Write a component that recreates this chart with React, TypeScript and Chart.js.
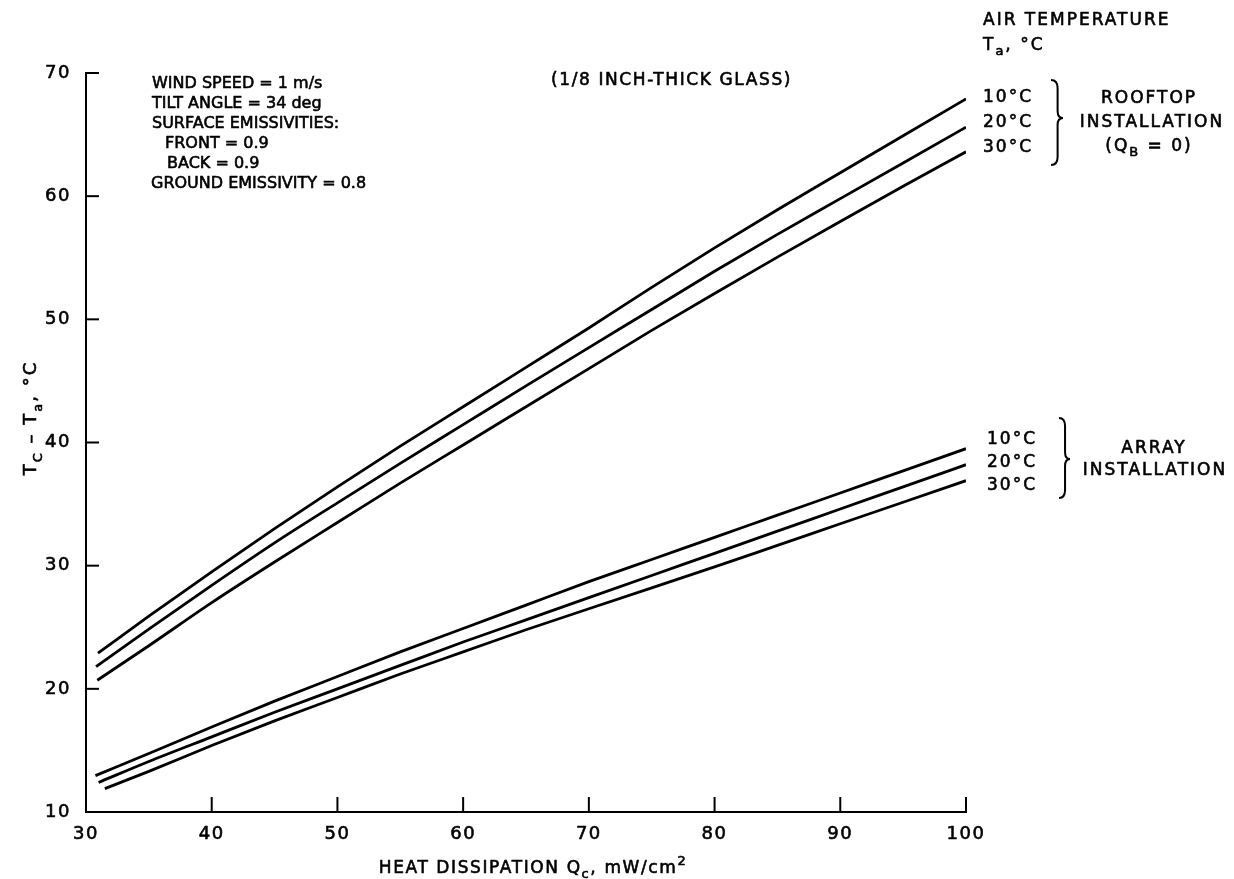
import React, { useEffect, useRef } from "react";
import { Chart, registerables } from "chart.js";

Chart.register(...registerables);

const FONT = '"DejaVu Sans", "Liberation Sans", sans-serif';

// Heat dissipation Q_c (mW/cm2) sampled along every curve after its first point
const qGrid = [35, 40, 45, 50, 55, 60, 65, 70, 75, 80, 85, 90, 95, 100];

// First point of each curve (10, 20, 30 °C air temperature)
const rooftopStartQ = [30.95, 30.8, 30.9];
const rooftopStartT = [22.9, 21.8, 20.7];
const arrayStartQ = [30.75, 31.0, 31.5];
const arrayStartT = [12.95, 12.4, 11.9];

// Tc - Ta (°C), rooftop installation (QB = 0)
const rooftop10 = [25.9, 29.5, 33.0, 36.4, 39.7, 42.9, 46.1, 49.3, 52.6, 55.8, 58.9, 61.9, 64.9, 67.9];
const rooftop20 = [24.85, 28.4, 31.85, 35.1, 38.3, 41.45, 44.6, 47.7, 50.8, 53.9, 56.9, 59.8, 62.7, 65.6];
const rooftop30 = [23.5, 27.0, 30.3, 33.5, 36.7, 39.8, 42.9, 46.0, 49.1, 52.1, 55.05, 57.95, 60.8, 63.6];

// Tc - Ta (°C), array installation
const array10 = [14.75, 16.9, 19.0, 21.0, 23.0, 24.9, 26.8, 28.7, 30.5, 32.3, 34.1, 35.9, 37.7, 39.5];
const array20 = [14.1, 16.1, 18.1, 20.0, 21.9, 23.8, 25.6, 27.4, 29.2, 31.0, 32.8, 34.6, 36.4, 38.2];
const array30 = [13.3, 15.4, 17.4, 19.3, 21.2, 23.0, 24.8, 26.5, 28.2, 29.9, 31.65, 33.4, 35.15, 36.9];

const airTemps = ["10°C", "20°C", "30°C"];
const xTickValues = [30, 40, 50, 60, 70, 80, 90, 100];
const yTickValues = [10, 20, 30, 40, 50, 60, 70];

const noteLines = [
  "WIND SPEED = 1 m/s",
  "TILT ANGLE = 34 deg",
  "SURFACE EMISSIVITIES:",
  "FRONT = 0.9",
  "BACK = 0.9",
  "GROUND EMISSIVITY = 0.8",
];
const noteIndent = [0, 0, 0, 13, 15, -1];

type Seg = { t: string; sub?: boolean; sup?: boolean };

function drawRich(
  ctx: CanvasRenderingContext2D,
  segs: Seg[],
  x: number,
  y: number,
  size: number,
  align: "left" | "center" = "left",
  spacing = 0
) {
  ctx.save();
  (ctx as any).letterSpacing = `${spacing}px`;
  ctx.textAlign = "left";
  ctx.textBaseline = "alphabetic";
  ctx.fillStyle = "#000";
  ctx.strokeStyle = "#000";
  ctx.lineWidth = 0.6;
  ctx.lineJoin = "round";
  const fontFor = (s: Seg) => `${s.sub || s.sup ? Math.round(size * 0.74) : size}px ${FONT}`;
  let total = 0;
  for (const s of segs) {
    ctx.font = fontFor(s);
    total += ctx.measureText(s.t).width;
  }
  let cx = align === "center" ? x - total / 2 : x;
  for (const s of segs) {
    ctx.font = fontFor(s);
    const dy = s.sub ? size * 0.32 : s.sup ? -size * 0.5 : 0;
    ctx.fillText(s.t, cx, y + dy);
    ctx.strokeText(s.t, cx, y + dy);
    cx += ctx.measureText(s.t).width;
  }
  ctx.restore();
}

function brace(ctx: CanvasRenderingContext2D, x: number, yTop: number, yMid: number, yBot: number, w: number) {
  const xs = x + w * 0.55;
  ctx.beginPath();
  ctx.moveTo(x, yTop);
  ctx.quadraticCurveTo(xs, yTop, xs, yTop + 8);
  ctx.lineTo(xs, yMid - 7);
  ctx.quadraticCurveTo(xs, yMid, x + w, yMid);
  ctx.quadraticCurveTo(xs, yMid, xs, yMid + 7);
  ctx.lineTo(xs, yBot - 8);
  ctx.quadraticCurveTo(xs, yBot, x, yBot);
  ctx.stroke();
}

const trackingPlugin = {
  id: "tracking",
  beforeDraw(chart: Chart) {
    (chart.ctx as any).letterSpacing = "1.5px";
  },
};

const annotationPlugin = {
  id: "annotations",
  afterDraw(chart: Chart) {
    const ctx = chart.ctx;
    const xs = chart.scales.x;
    const ys = chart.scales.y;
    const { left, bottom } = chart.chartArea;

    ctx.save();
    ctx.strokeStyle = "#000";
    ctx.lineWidth = 2;
    ctx.lineCap = "butt";
    // inward tick marks
    for (const v of yTickValues.slice(1)) {
      const py = ys.getPixelForValue(v);
      ctx.beginPath();
      ctx.moveTo(left, py);
      ctx.lineTo(left + 13, py);
      ctx.stroke();
    }
    for (const v of xTickValues.slice(1)) {
      const px = xs.getPixelForValue(v);
      ctx.beginPath();
      ctx.moveTo(px, bottom);
      ctx.lineTo(px, bottom - 15);
      ctx.stroke();
    }

    // conditions block
    noteLines.forEach((line, i) => {
      drawRich(ctx, [{ t: line }], 152 + noteIndent[i], 88 + i * 20, 16, "left", 0);
    });
    drawRich(ctx, [{ t: "(1/8 INCH-THICK GLASS)" }], 551, 85, 17, "left", 1.6);

    // air temperature key
    drawRich(ctx, [{ t: "AIR TEMPERATURE" }], 983, 25, 17, "left", 2);
    drawRich(ctx, [{ t: "T" }, { t: "a", sub: true }, { t: ", °C" }], 983, 50, 17, "left", 2);

    const roofBase = [102, 127, 152];
    const arrayBase = [444, 467, 490];
    airTemps.forEach((t, i) => {
      drawRich(ctx, [{ t }], 983, roofBase[i], 17, "left", 2);
      drawRich(ctx, [{ t }], 987, arrayBase[i], 17, "left", 2);
    });

    ctx.strokeStyle = "#000";
    ctx.lineWidth = 2;
    brace(ctx, 1051, 80, 118, 165, 12);
    brace(ctx, 1059, 418, 459, 498, 11);

    drawRich(ctx, [{ t: "ROOFTOP" }], 1149, 103, 17, "center", 2);
    drawRich(ctx, [{ t: "INSTALLATION" }], 1152, 127, 17, "center", 2);
    drawRich(ctx, [{ t: "(Q" }, { t: "B", sub: true }, { t: " = 0)" }], 1149, 151, 17, "center", 2);
    drawRich(ctx, [{ t: "ARRAY" }], 1154, 453, 17, "center", 2);
    drawRich(ctx, [{ t: "INSTALLATION" }], 1155, 475, 17, "center", 2);

    // axis titles
    drawRich(
      ctx,
      [{ t: "HEAT DISSIPATION Q" }, { t: "c", sub: true }, { t: ", mW/cm" }, { t: "2", sup: true }],
      533,
      873,
      17,
      "center",
      1.6
    );
    ctx.save();
    ctx.translate(36, 418);
    ctx.rotate(-Math.PI / 2);
    drawRich(
      ctx,
      [{ t: "T" }, { t: "C", sub: true }, { t: " – T" }, { t: "a", sub: true }, { t: ", °C" }],
      0,
      0,
      18,
      "center",
      2
    );
    ctx.restore();
    ctx.restore();
  },
};

function series(startQ: number, startT: number, values: number[]) {
  return [{ x: startQ, y: startT }, ...qGrid.map((q, i) => ({ x: q, y: values[i] }))];
}

export default function App() {
  const canvasRef = useRef<HTMLCanvasElement | null>(null);

  useEffect(() => {
    const canvas = canvasRef.current;
    if (!canvas) return;
    const lineStyle = {
      borderColor: "#000",
      borderWidth: 2.8,
      pointRadius: 0,
      fill: false,
      cubicInterpolationMode: "monotone" as const,
    };
    const tickFont = { family: FONT, size: 18 };
    const chart = new Chart(canvas, {
      type: "line",
      data: {
        datasets: [
          { label: "Rooftop 10°C", data: series(rooftopStartQ[0], rooftopStartT[0], rooftop10), ...lineStyle },
          { label: "Rooftop 20°C", data: series(rooftopStartQ[1], rooftopStartT[1], rooftop20), ...lineStyle },
          { label: "Rooftop 30°C", data: series(rooftopStartQ[2], rooftopStartT[2], rooftop30), ...lineStyle },
          { label: "Array 10°C", data: series(arrayStartQ[0], arrayStartT[0], array10), ...lineStyle },
          { label: "Array 20°C", data: series(arrayStartQ[1], arrayStartT[1], array20), ...lineStyle },
          { label: "Array 30°C", data: series(arrayStartQ[2], arrayStartT[2], array30), ...lineStyle },
        ],
      },
      options: {
        animation: false,
        responsive: false,
        events: [],
        layout: { padding: { left: 0, top: 73, right: 268, bottom: 0 } },
        plugins: { legend: { display: false }, tooltip: { enabled: false } },
        scales: {
          x: {
            type: "linear",
            min: 30,
            max: 100,
            afterBuildTicks: (s: any) => {
              s.ticks = xTickValues.map((v) => ({ value: v }));
            },
            afterFit: (s: any) => {
              s.height = 67;
            },
            ticks: {
              color: "#000",
              font: tickFont,
              padding: 12,
              maxRotation: 0,
              autoSkip: false,
              textStrokeColor: "#000",
              textStrokeWidth: 0.6,
            },
            grid: { display: false, drawTicks: false },
            border: { display: true, color: "#000", width: 2 },
          },
          y: {
            type: "linear",
            min: 10,
            max: 70,
            afterBuildTicks: (s: any) => {
              s.ticks = yTickValues.map((v) => ({ value: v }));
            },
            afterFit: (s: any) => {
              s.width = 86;
            },
            ticks: {
              color: "#000",
              font: tickFont,
              padding: 15,
              textStrokeColor: "#000",
              textStrokeWidth: 0.6,
            },
            grid: { display: false, drawTicks: false },
            border: { display: true, color: "#000", width: 2 },
          },
        },
      },
      plugins: [trackingPlugin, annotationPlugin],
    });
    return () => chart.destroy();
  }, []);

  return (
    <div style={{ position: "absolute", left: 0, top: 0, width: 1234, height: 879, background: "#fff" }}>
      <canvas ref={canvasRef} width={1234} height={879} />
    </div>
  );
}
